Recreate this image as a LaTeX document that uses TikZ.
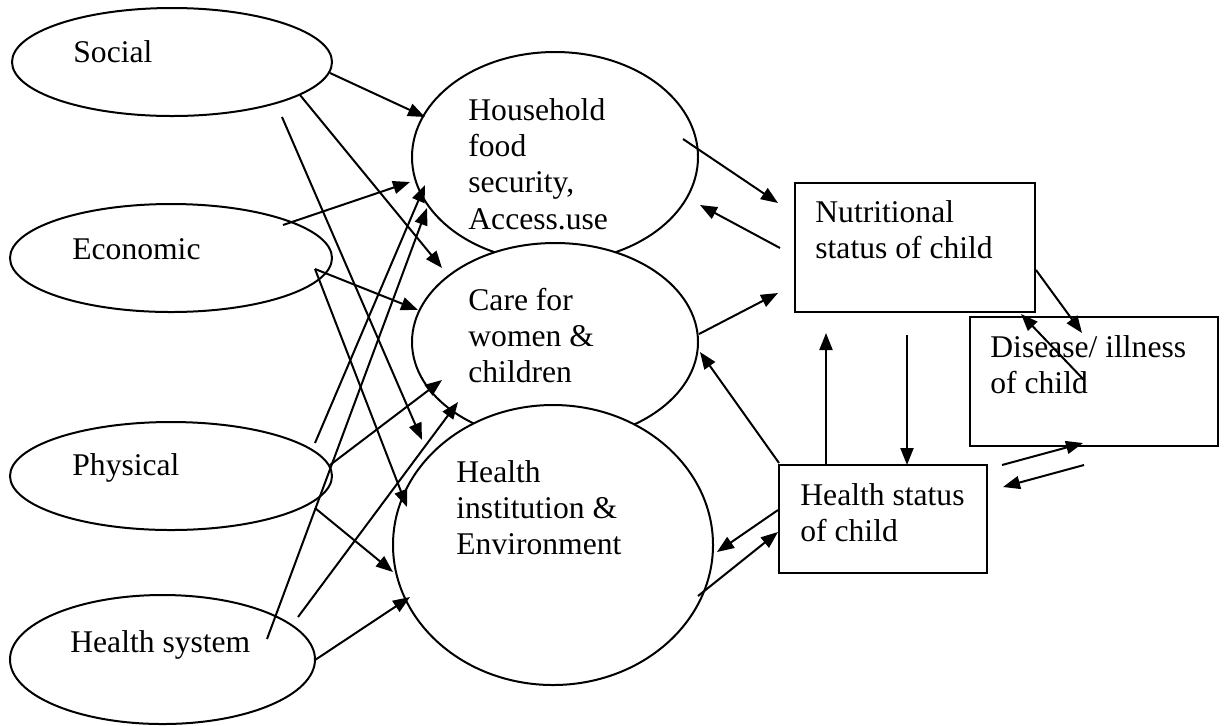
\documentclass[tikz,border=0pt]{standalone}
\usepackage{fontspec}
\setmainfont{Liberation Serif}
\usetikzlibrary{arrows.meta,shapes.geometric}
\begin{document}
\begin{tikzpicture}[x=0.5pt,y=-0.5pt,
  shapeline/.style={draw=black, line width=1pt, fill=white},
  oval/.style={shapeline, ellipse, inner sep=0pt},
  boxnode/.style={shapeline, rectangle, inner sep=0pt},
  lbl/.style={anchor=base west, inner sep=0pt, font=\fontsize{15.8}{18.2}\selectfont},
  arr/.style={draw=black, line width=1pt, -{Triangle[length=8.5pt,width=6.5pt]}}]
\useasboundingbox (0,0) rectangle (1224,725);
% left ovals
\node[oval, minimum width=160pt, minimum height=54pt] (soc) at (172,62) {};
\node[oval, minimum width=161pt, minimum height=54pt] (eco) at (171,258) {};
\node[oval, minimum width=161pt, minimum height=54pt] (phy) at (171,476) {};
\node[oval, minimum width=152.5pt, minimum height=64.5pt] (hsys) at (162.5,659.5) {};
% middle ovals
\node[oval, minimum width=143pt, minimum height=105pt] (hh) at (555,157) {};
\node[oval, minimum width=143pt, minimum height=99pt] (care) at (555,342) {};
\node[oval, minimum width=160pt, minimum height=140pt] (hi) at (553,545) {};
% boxes
\node[boxnode, minimum width=120pt, minimum height=64.5pt] (nut) at (915,247.5) {};
\node[boxnode, minimum width=124pt, minimum height=64.5pt] (dis) at (1094,381.5) {};
\node[boxnode, minimum width=104pt, minimum height=54pt] (hs) at (883,519) {};
% labels
\node[lbl] (tsoc) at (73,62) {Social};
\node[lbl] (teco) at (72,259) {Economic};
\node[lbl] (tphy) at (72,475) {Physical};
\node[lbl] (thsys) at (70,652) {Health system};
\node[lbl] (thh) at (468,120) {\vtop{\hbox{Household}\hbox{food}\hbox{security,}\hbox{Access.use}}};
\node[lbl] (tcare) at (468,310) {\vtop{\hbox{Care for}\hbox{women \&}\hbox{children}}};
\node[lbl] (thi) at (456,482) {\vtop{\hbox{Health}\hbox{institution \&}\hbox{Environment}}};
\node[lbl] (tnut) at (815,222) {\vtop{\hbox{Nutritional}\hbox{status of child}}};
\node[lbl] (tdis) at (990,357) {\vtop{\hbox{Disease/ illness}\hbox{of child}}};
\node[lbl] (ths) at (800,505) {\vtop{\hbox{Health status}\hbox{of child}}};
% connector end points
\coordinate (a1s) at (330,73);  \coordinate (a1e) at (425,117);
\coordinate (a2s) at (300,95);  \coordinate (a2e) at (442,268);
\coordinate (a3s) at (282,117); \coordinate (a3e) at (422,440);
\coordinate (a4s) at (283,225); \coordinate (a4e) at (410,182);
\coordinate (a5s) at (315,269); \coordinate (a5e) at (418,310);
\coordinate (a6e) at (407,507);
\coordinate (a7s) at (315,443); \coordinate (a7e) at (425,185);
\coordinate (a8s) at (330,465); \coordinate (a8e) at (442,380);
\coordinate (a9s) at (315,508); \coordinate (a9e) at (393,572);
\coordinate (b1s) at (267,639); \coordinate (b1e) at (427,208);
\coordinate (b2s) at (298,617); \coordinate (b2e) at (458,402);
\coordinate (b3s) at (315,660); \coordinate (b3e) at (410,597);
\coordinate (c1s) at (683,139); \coordinate (c1e) at (778,203);
\coordinate (c2s) at (780,248); \coordinate (c2e) at (700,205);
\coordinate (c3s) at (699,334); \coordinate (c3e) at (778,293);
\coordinate (c4s) at (779,463); \coordinate (c4e) at (700,352);
\coordinate (c5s) at (778,510); \coordinate (c5e) at (717,552);
\coordinate (c6s) at (698,596); \coordinate (c6e) at (778,532);
\coordinate (d1s) at (826,465); \coordinate (d1e) at (826,333);
\coordinate (d2s) at (907,335); \coordinate (d2e) at (907,465);
\coordinate (d3s) at (1036,270); \coordinate (d3e) at (1082,333);
\coordinate (d4s) at (1084,380); \coordinate (d4e) at (1021,314);
\coordinate (d5s) at (1002,465); \coordinate (d5e) at (1083,443);
\coordinate (d6s) at (1084,465); \coordinate (d6e) at (1003,487);
% connectors
\draw[arr] (a1s) -- (a1e);
\draw[arr] (a2s) -- (a2e);
\draw[arr] (a3s) -- (a3e);
\draw[arr] (a4s) -- (a4e);
\draw[arr] (a5s) -- (a5e);
\draw[arr] (a5s) -- (a6e);
\draw[arr] (a7s) -- (a7e);
\draw[arr] (a8s) -- (a8e);
\draw[arr] (a9s) -- (a9e);
\draw[arr] (b1s) -- (b1e);
\draw[arr] (b2s) -- (b2e);
\draw[arr] (b3s) -- (b3e);
\draw[arr] (c1s) -- (c1e);
\draw[arr] (c2s) -- (c2e);
\draw[arr] (c3s) -- (c3e);
\draw[arr] (c4s) -- (c4e);
\draw[arr] (c5s) -- (c5e);
\draw[arr] (c6s) -- (c6e);
\draw[arr] (d1s) -- (d1e);
\draw[arr] (d2s) -- (d2e);
\draw[arr] (d3s) -- (d3e);
\draw[arr] (d4s) -- (d4e);
\draw[arr] (d5s) -- (d5e);
\draw[arr] (d6s) -- (d6e);
\end{tikzpicture}
\end{document}
